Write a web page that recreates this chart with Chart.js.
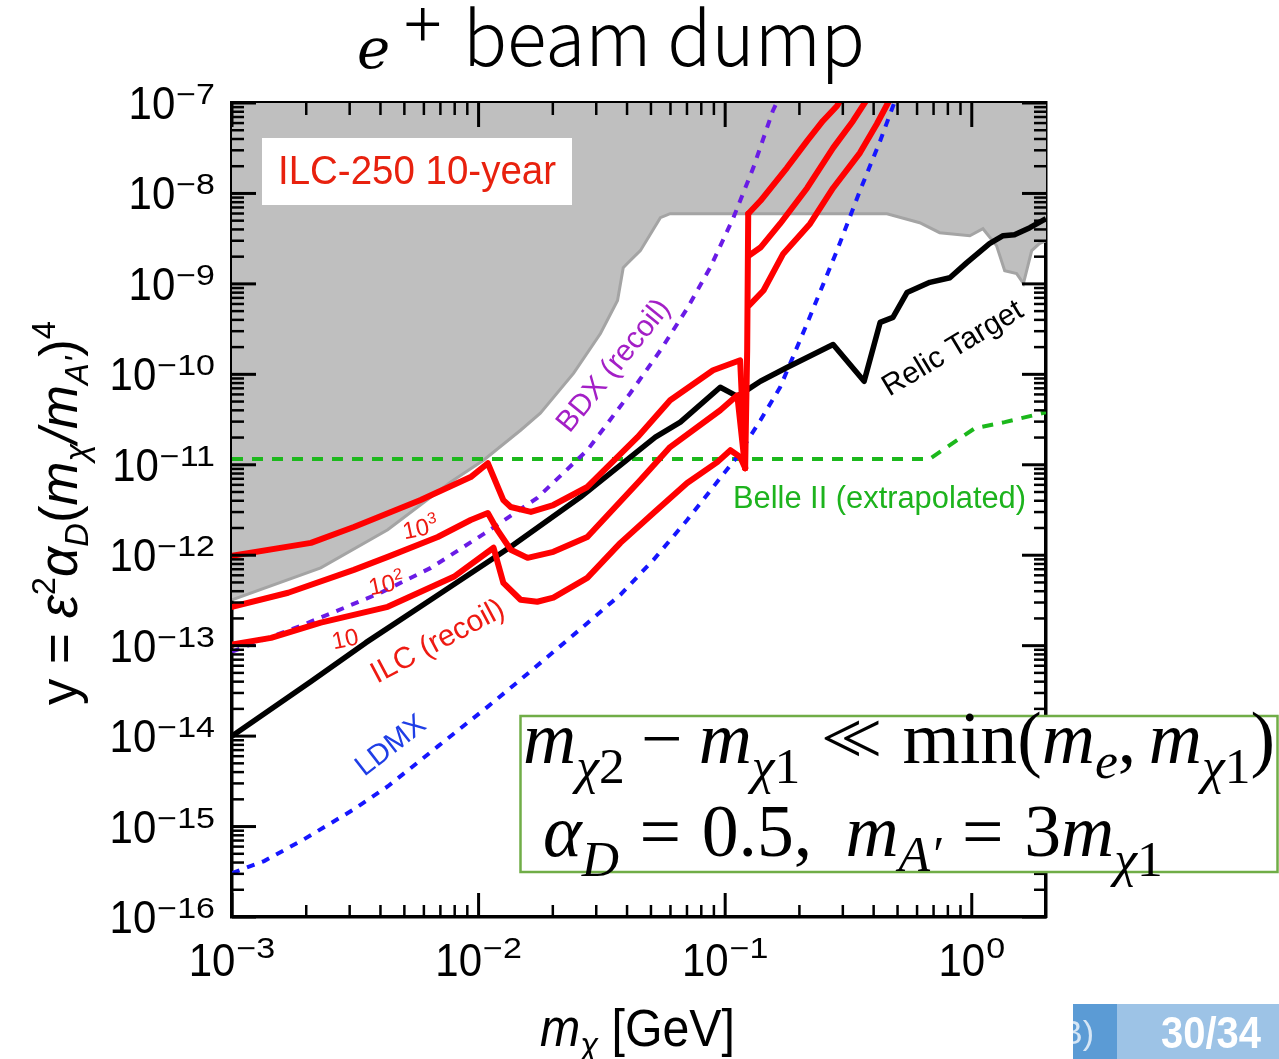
<!DOCTYPE html>
<html>
<head>
<meta charset="utf-8">
<title>e+ beam dump</title>
<script src="https://cdn.jsdelivr.net/npm/chart.js@4.4.1/dist/chart.umd.min.js"></script>
<style>
html,body{margin:0;padding:0;background:#ffffff;overflow:hidden;}
#c{display:block;}
</style>
</head>
<body>
<canvas id="c" width="1279" height="1059"></canvas>
<script>
// ---------- axes ----------
const X_MIN = 1e-3, X_MAX = 2, Y_MIN = 1e-16, Y_MAX = 1e-7;
const xMajorTicks = [1e-3, 1e-2, 1e-1, 1];
const xTickExponents = ['−3', '−2', '−1', '0'];
const yMajorTicks = [1e-16, 1e-15, 1e-14, 1e-13, 1e-12, 1e-11, 1e-10, 1e-9, 1e-8, 1e-7];
const yTickExponents = ['−16', '−15', '−14', '−13', '−12', '−11', '−10', '−9', '−8', '−7'];

// ---------- excluded (grey) region boundary ----------
const excludedX = [1.00e-3, 2.29e-3, 4.28e-3, 7.71e-3, 1.05e-2, 1.48e-2, 1.78e-2, 2.43e-2, 3.12e-2, 3.66e-2, 3.86e-2, 4.01e-2, 4.53e-2, 5.46e-2, 5.98e-2, 0.453, 0.615, 0.741, 0.982, 1.11, 1.26, 1.36, 1.52, 1.62, 1.75, 1.88, 2.0];
const excludedY = [3.22e-13, 7.24e-13, 1.91e-12, 6.44e-12, 1.13e-11, 2.41e-11, 3.72e-11, 1.03e-10, 2.83e-10, 6.55e-10, 1.51e-9, 1.68e-9, 2.33e-9, 5.40e-9, 5.97e-9, 5.97e-9, 4.75e-9, 3.68e-9, 3.41e-9, 4.07e-9, 2.65e-9, 1.40e-9, 1.30e-9, 1.01e-9, 2.33e-9, 2.79e-9, 3.01e-9];

// ---------- relic target ----------
const relicX = [1.0e-3, 2.09e-3, 3.49e-3, 6.40e-3, 1.35e-2, 2.59e-2, 5.21e-2, 6.58e-2, 9.55e-2, 0.112, 0.139, 0.178, 0.274, 0.366, 0.425, 0.479, 0.546, 0.676, 0.815, 0.955, 1.18, 1.34, 1.49, 1.72, 2.0];
const relicY = [1.0e-14, 4.01e-14, 1.08e-13, 3.22e-13, 1.24e-12, 4.40e-12, 2.02e-11, 2.96e-11, 7.19e-11, 5.71e-11, 8.38e-11, 1.19e-10, 2.14e-10, 8.38e-11, 3.75e-10, 4.26e-10, 8.02e-10, 1.04e-9, 1.17e-9, 1.72e-9, 2.79e-9, 3.41e-9, 3.50e-9, 4.18e-9, 5.26e-9];

// ---------- Belle II (extrapolated) ----------
const belleX = [1e-3, 0.676, 0.815, 1.03, 1.36, 2.0];
const belleY = [1.16e-11, 1.16e-11, 1.65e-11, 2.54e-11, 2.96e-11, 3.81e-11];

// ---------- BDX (recoil) ----------
const bdxX = [1.00e-3, 1.90e-3, 4.01e-3, 6.40e-3, 1.05e-2, 1.73e-2, 2.76e-2, 4.12e-2, 5.46e-2, 7.01e-2, 8.69e-2, 0.108, 0.130, 0.156, 0.163];
const bdxY = [8.59e-14, 1.66e-13, 3.85e-13, 7.24e-13, 1.72e-12, 4.30e-12, 1.45e-11, 6.18e-11, 1.84e-10, 5.35e-10, 1.51e-9, 5.40e-9, 1.92e-8, 8.17e-8, 1.05e-7];

// ---------- LDMX ----------
const ldmxX = [1.00e-3, 1.35e-3, 1.96e-3, 3.12e-3, 4.29e-3, 6.83e-3, 1.09e-2, 1.48e-2, 2.35e-2, 3.76e-2, 5.12e-2, 7.01e-2, 9.55e-2, 0.111, 0.139, 0.167, 0.215, 0.284, 0.352, 0.425, 0.488];
const ldmxY = [3.06e-16, 4.15e-16, 7.24e-16, 1.55e-15, 2.79e-15, 7.69e-15, 2.12e-14, 4.22e-14, 1.22e-13, 3.66e-13, 8.89e-13, 2.45e-12, 7.13e-12, 1.19e-11, 3.11e-11, 7.19e-11, 3.66e-10, 2.33e-9, 1.07e-8, 3.81e-8, 1.05e-7];

// ---------- ILC (recoil), 10^3 / 10^2 / 10 ----------
const ilc1000X = [1.00e-3, 2.09e-3, 3.12e-3, 5.82e-3, 9.29e-3, 1.09e-2, 1.26e-2, 1.35e-2, 1.63e-2, 2.01e-2, 2.76e-2, 4.41e-2, 5.98e-2, 8.93e-2, 0.115, 0.1205];
const ilc1000Y = [9.84e-13, 1.37e-12, 2.05e-12, 4.07e-12, 7.31e-12, 1.04e-11, 4.07e-12, 3.41e-12, 3.01e-12, 3.59e-12, 5.68e-12, 2.02e-11, 5.16e-11, 1.11e-10, 1.43e-10, 9.18e-12];
const ilc100X = [1.00e-3, 1.69e-3, 3.12e-3, 4.28e-3, 6.83e-3, 9.29e-3, 1.09e-2, 1.19e-2, 1.35e-2, 1.58e-2, 2.01e-2, 2.76e-2, 4.53e-2, 5.98e-2, 9.55e-2, 0.112, 0.1205];
const ilc100Y = [2.69e-13, 3.85e-13, 6.89e-13, 9.59e-13, 1.59e-12, 2.45e-12, 2.93e-12, 1.91e-12, 1.15e-12, 9.35e-13, 1.09e-12, 1.59e-12, 6.78e-12, 1.57e-11, 4.01e-11, 5.86e-11, 9.18e-12];
const ilc10X = [1.00e-3, 1.44e-3, 2.29e-3, 4.28e-3, 7.93e-3, 1.15e-2, 1.26e-2, 1.48e-2, 1.73e-2, 2.01e-2, 2.76e-2, 3.76e-2, 5.12e-2, 7.01e-2, 9.29e-2, 0.105, 0.115, 0.1205];
const ilc10Y = [1.03e-13, 1.22e-13, 1.80e-13, 2.69e-13, 5.77e-13, 1.21e-12, 4.95e-13, 3.22e-13, 3.06e-13, 3.39e-13, 5.62e-13, 1.37e-12, 2.93e-12, 6.28e-12, 1.07e-11, 1.45e-11, 1.22e-11, 9.18e-12];
const ilcEdgeX = [0.1205, 0.1228, 0.124];
const ilcEdgeY = [9.18e-12, 1.84e-10, 5.97e-9];
const ilcUpperAX = [0.124, 0.139, 0.178, 0.215, 0.249, 0.284, 0.292];
const ilcUpperAY = [5.97e-9, 8.30e-9, 1.92e-8, 3.81e-8, 6.33e-8, 9.27e-8, 1.05e-7];
const ilcUpperBX = [0.125, 0.139, 0.167, 0.215, 0.274, 0.330, 0.372];
const ilcUpperBY = [2.06e-9, 2.52e-9, 4.63e-9, 1.15e-8, 3.19e-8, 6.33e-8, 1.05e-7];
const ilcUpperCX = [0.125, 0.143, 0.172, 0.221, 0.274, 0.352, 0.412, 0.457, 0.466];
const ilcUpperCY = [5.77e-10, 8.45e-10, 2.16e-9, 4.63e-9, 1.15e-8, 2.81e-8, 5.86e-8, 1.00e-7, 1.11e-7];

// ---------- styling ----------
const SANS = '"Liberation Sans", Arial, Helvetica, sans-serif';
const SERIF = '"Liberation Serif", "DejaVu Serif", serif';
const RED = '#ff0000';

function pts(xs, ys) { return xs.map((x, i) => ({ x: x, y: ys[i] })); }

function redLine(label, xs, ys) {
  return { label: label, data: pts(xs, ys), borderColor: RED, borderWidth: 6, pointRadius: 0, fill: false, tension: 0, borderJoinStyle: 'round', borderCapStyle: 'round' };
}

const datasets = [
  redLine('ILC 10^3', ilc1000X, ilc1000Y),
  redLine('ILC 10^2', ilc100X, ilc100Y),
  redLine('ILC 10', ilc10X, ilc10Y),
  redLine('ILC edge', ilcEdgeX, ilcEdgeY),
  redLine('ILC upper A', ilcUpperAX, ilcUpperAY),
  redLine('ILC upper B', ilcUpperBX, ilcUpperBY),
  redLine('ILC upper C', ilcUpperCX, ilcUpperCY),
  { label: 'Relic Target', data: pts(relicX, relicY), borderColor: '#000000', borderWidth: 5.5, pointRadius: 0, fill: false, tension: 0, borderJoinStyle: 'round' },
  { label: 'BDX (recoil)', data: pts(bdxX, bdxY), borderColor: '#6a1be6', borderWidth: 4, borderDash: [8, 8], pointRadius: 0, fill: false, tension: 0 },
  { label: 'LDMX', data: pts(ldmxX, ldmxY), borderColor: '#1616ff', borderWidth: 4, borderDash: [8, 8], pointRadius: 0, fill: false, tension: 0 },
  { label: 'Belle II', data: pts(belleX, belleY), borderColor: '#1cb81c', borderWidth: 4, borderDash: [11, 9], pointRadius: 0, fill: false, tension: 0 },
  { label: 'Excluded', data: pts(excludedX, excludedY), borderColor: '#a4a4a4', borderWidth: 3, backgroundColor: '#bfbfbf', pointRadius: 0, fill: 'end', tension: 0 }
];

// ---------- text helpers ----------
function stretchText(ctx, s, x, y, font, vs) {
  ctx.save();
  ctx.font = font;
  ctx.translate(x, y);
  ctx.scale(1, vs);
  ctx.fillText(s, 0, 0);
  ctx.restore();
}
function tenPow(ctx, exp, x, yBase, big, small, rise, align, vs, svs) {
  ctx.font = big + 'px ' + SANS; const w1 = ctx.measureText('10').width;
  ctx.font = small + 'px ' + SANS; const w2 = ctx.measureText(exp).width;
  const gap = 1;
  let x0 = x;
  if (align === 'right') x0 = x - w1 - w2 - gap;
  if (align === 'center') x0 = x - (w1 + w2 + gap) / 2;
  stretchText(ctx, '10', x0, yBase, big + 'px ' + SANS, vs);
  stretchText(ctx, exp, x0 + w1 + gap, yBase - rise, small + 'px ' + SANS, svs);
}
function runFont(r, S, fam) {
  return (r.it ? 'italic ' : '') + (r.b ? 'bold ' : '') + ((r.sz || 1) * S).toFixed(2) + 'px ' + (r.fam || fam);
}
function runsWidth(ctx, runs, S, fam) {
  let w = 0;
  for (const r of runs) {
    if (r.gap) { w += r.gap * S; continue; }
    ctx.font = runFont(r, S, fam); w += ctx.measureText(r.t).width + (r.kern || 0) * S;
  }
  return w;
}
function drawRuns(ctx, runs, S, fam, x, y) {
  for (const r of runs) {
    if (r.gap) { x += r.gap * S; continue; }
    ctx.font = runFont(r, S, fam);
    ctx.fillText(r.t, x, y + (r.dy || 0) * S);
    x += ctx.measureText(r.t).width + (r.kern || 0) * S;
  }
}
function rotLabel(ctx, s, cx, cy, deg, px, color) {
  ctx.save();
  ctx.translate(cx, cy);
  ctx.rotate(deg * Math.PI / 180);
  ctx.font = px + 'px ' + SANS;
  ctx.fillStyle = color;
  ctx.textAlign = 'center';
  ctx.textBaseline = 'middle';
  ctx.fillText(s, 0, 0);
  ctx.restore();
}
function smallPow(ctx, exp, cx, cy, deg) {
  ctx.save();
  ctx.translate(cx, cy);
  ctx.rotate(deg * Math.PI / 180);
  ctx.fillStyle = '#ee1a12';
  ctx.textBaseline = 'alphabetic';
  ctx.font = '24px ' + SANS; const w1 = ctx.measureText('10').width;
  ctx.font = '16px ' + SANS; const w2 = exp ? ctx.measureText(exp).width : 0;
  const x0 = -(w1 + w2) / 2;
  ctx.font = '24px ' + SANS; ctx.fillText('10', x0, 9);
  if (exp) { ctx.font = '16px ' + SANS; ctx.fillText(exp, x0 + w1, -1); }
  ctx.restore();
}

const decor = {
  id: 'decor',
  afterDraw(chart) {
    const ctx = chart.ctx;
    const a = chart.chartArea;
    const xs = chart.scales.x, ys = chart.scales.y;
    ctx.save();
    ctx.textBaseline = 'alphabetic';
    ctx.textAlign = 'left';

    // inward ticks on all four sides
    ctx.strokeStyle = '#000';
    ctx.lineCap = 'butt';
    const seg = (x1, y1, x2, y2) => { ctx.beginPath(); ctx.moveTo(x1, y1); ctx.lineTo(x2, y2); ctx.stroke(); };
    for (let e = -3; e <= 0; e++) {
      for (let k = 1; k <= 9; k++) {
        const v = k * Math.pow(10, e);
        if (v < X_MIN * 0.999 || v > X_MAX * 0.999) continue;
        const px = xs.getPixelForValue(v);
        const major = (k === 1);
        const L = major ? 24 : 12;
        ctx.lineWidth = major ? 3 : 2.5;
        seg(px, a.bottom, px, a.bottom - L);
        seg(px, a.top, px, a.top + L);
      }
    }
    for (let e = -16; e <= -7; e++) {
      for (let k = 1; k <= 9; k++) {
        const v = k * Math.pow(10, e);
        if (v < Y_MIN * 0.999 || v > Y_MAX * 1.001) continue;
        const py = ys.getPixelForValue(v);
        const major = (k === 1);
        const L = major ? 24 : 12;
        ctx.lineWidth = major ? 3 : 2.5;
        seg(a.left, py, a.left + L, py);
        seg(a.right, py, a.right - L, py);
      }
    }

    // tick labels
    ctx.fillStyle = '#000';
    yMajorTicks.forEach((v, i) => {
      const py = ys.getPixelForValue(v);
      tenPow(ctx, yTickExponents[i], 215, py + 16, 42, 34, 15, 'right', 1.1, 0.85);
    });
    xMajorTicks.forEach((v, i) => {
      const px = xs.getPixelForValue(v);
      tenPow(ctx, xTickExponents[i], px, 976, 42, 34, 18, 'center', 1.1, 0.85);
    });

    // axis titles
    const yRuns = [
      { t: 'y = ' }, { t: 'ε', it: 1 }, { t: '2', sz: 0.62, dy: -0.42 }, { t: 'α', it: 1 },
      { t: 'D', it: 1, sz: 0.62, dy: 0.2 }, { t: '(' }, { t: 'm', it: 1 }, { t: 'χ', it: 1, sz: 0.62, dy: 0.2 },
      { t: '/', it: 1 }, { t: 'm', it: 1 }, { t: "A'", it: 1, sz: 0.62, dy: 0.2 }, { t: ')' }, { t: '4', sz: 0.62, dy: -0.42 }
    ];
    let S = 44;
    S = S * 384 / runsWidth(ctx, yRuns, S, SANS);
    ctx.save();
    ctx.translate(77, 513);
    ctx.rotate(-Math.PI / 2);
    drawRuns(ctx, yRuns, S, SANS, -runsWidth(ctx, yRuns, S, SANS) / 2, 0);
    ctx.restore();

    const xRuns = [{ t: 'm', it: 1 }, { t: 'χ', it: 1, sz: 0.68, dy: 0.22 }, { t: ' [GeV]' }];
    let SX = 44;
    SX = SX * 195 / runsWidth(ctx, xRuns, SX, SANS);
    ctx.save();
    ctx.translate(540, 1046);
    ctx.scale(1, 1.08);
    drawRuns(ctx, xRuns, SX, SANS, 0, 0);
    ctx.restore();

    // chart title
    ctx.fillStyle = '#000';
    ctx.font = 'italic 56px "DejaVu Serif", serif';
    ctx.fillText('e', 357, 68);
    ctx.font = '70px ' + SERIF;
    ctx.fillText('+', 403, 48);
    let TS = 60;
    const TF = '"Noto Sans CJK JP", "Noto Sans", sans-serif';
    ctx.font = '300 ' + TS + 'px ' + TF;
    TS = TS * 402 / ctx.measureText('beam dump').width;
    ctx.font = '300 ' + TS.toFixed(2) + 'px ' + TF;
    stretchText(ctx, 'beam dump', 463, 66, '300 ' + TS.toFixed(2) + 'px ' + TF, 1.03);

    // ILC-250 box
    ctx.fillStyle = '#ffffff';
    ctx.fillRect(262, 138, 310, 67);
    ctx.fillStyle = '#e8210e';
    let FS = 40;
    ctx.font = FS + 'px ' + SANS;
    FS = FS * 278 / ctx.measureText('ILC-250 10-year').width;
    stretchText(ctx, 'ILC-250 10-year', 278, 184, FS.toFixed(2) + 'px ' + SANS, 1.07);

    // curve labels
    rotLabel(ctx, 'BDX (recoil)', 614, 366, -51, 30, '#a31fc6');
    rotLabel(ctx, 'ILC (recoil)', 438, 642, -28, 30, '#ee1a12');
    rotLabel(ctx, 'LDMX', 391, 746, -38, 29, '#1f3ee6');
    rotLabel(ctx, 'Relic Target', 953, 349, -31, 30, '#000000');
    ctx.fillStyle = '#1db31d';
    let BS = 30;
    ctx.font = BS + 'px ' + SANS;
    BS = BS * 293 / ctx.measureText('Belle II (extrapolated)').width;
    ctx.font = BS.toFixed(2) + 'px ' + SANS;
    ctx.fillText('Belle II (extrapolated)', 733, 508);
    smallPow(ctx, '3', 420, 527, -12);
    smallPow(ctx, '2', 386, 583, -12);
    smallPow(ctx, '', 345, 638, -12);

    // model-assumption box
    ctx.fillStyle = '#ffffff';
    ctx.fillRect(520, 716, 760, 156);
    ctx.strokeStyle = '#70ad47';
    ctx.lineWidth = 2.5;
    ctx.strokeRect(520.5, 716, 757, 156);
    ctx.fillStyle = '#000000';
    const line1 = [
      { t: 'm', it: 1 }, { t: 'χ', it: 1, sz: 0.7, dy: 0.27 }, { t: '2', sz: 0.7, dy: 0.27 }, { gap: 0.22 }, { t: '−' }, { gap: 0.22 },
      { t: 'm', it: 1 }, { t: 'χ', it: 1, sz: 0.7, dy: 0.27 }, { t: '1', sz: 0.7, dy: 0.27 }, { gap: 0.28 },
      { t: '<', kern: -0.3 }, { t: '<' }, { gap: 0.28 },
      { t: 'min' }, { t: '(' }, { t: 'm', it: 1 }, { t: 'e', it: 1, sz: 0.7, dy: 0.2 }, { t: ',' }, { gap: 0.17 },
      { t: 'm', it: 1 }, { t: 'χ', it: 1, sz: 0.7, dy: 0.27 }, { t: '1', sz: 0.7, dy: 0.27 }, { t: ')' }
    ];
    const line2 = [
      { t: 'α', it: 1 }, { t: 'D', it: 1, sz: 0.7, dy: 0.27 }, { gap: 0.28 }, { t: '=' }, { gap: 0.28 }, { t: '0.5,' }, { gap: 0.45 },
      { t: 'm', it: 1 }, { t: 'A′', it: 1, sz: 0.7, dy: 0.2 }, { gap: 0.28 }, { t: '=' }, { gap: 0.28 }, { t: '3' },
      { t: 'm', it: 1 }, { t: 'χ', it: 1, sz: 0.7, dy: 0.27 }, { t: '1', sz: 0.7, dy: 0.27 }
    ];
    let MS = 56;
    MS = MS * 752 / runsWidth(ctx, line1, MS, SERIF);
    drawRuns(ctx, line1, MS, SERIF, 523, 763);
    drawRuns(ctx, line2, MS, SERIF, 543, 856);

    // slide page-number box
    ctx.fillStyle = '#5b9bd5';
    ctx.fillRect(1073, 1004, 44, 55);
    ctx.fillStyle = '#9dc3e6';
    ctx.fillRect(1117, 1004, 162, 55);
    ctx.save();
    ctx.beginPath(); ctx.rect(1073, 1004, 44, 55); ctx.clip();
    ctx.fillStyle = '#d6e6f5';
    ctx.font = '34px ' + SANS;
    ctx.textAlign = 'right';
    ctx.fillText('B)', 1094, 1044);
    ctx.restore();
    ctx.fillStyle = '#ffffff';
    ctx.textAlign = 'center';
    stretchText(ctx, '30/34', 1211, 1048, 'bold 40px ' + SANS, 1.1);
    ctx.restore();
  }
};

const axisCommon = {
  type: 'logarithmic',
  grid: { display: false },
  ticks: { display: false },
  border: { display: true, color: '#000000', width: 3.5 },
  z: 1
};

new Chart(document.getElementById('c'), {
  type: 'line',
  data: { datasets: datasets },
  options: {
    responsive: false,
    animation: false,
    devicePixelRatio: 1,
    layout: { padding: { left: 224, right: 225, top: 95, bottom: 134 } },
    plugins: { legend: { display: false }, tooltip: { enabled: false }, title: { display: false } },
    scales: {
      x: Object.assign({}, axisCommon, { position: 'bottom', min: X_MIN, max: X_MAX }),
      x2: Object.assign({}, axisCommon, { position: 'top', min: X_MIN, max: X_MAX }),
      y: Object.assign({}, axisCommon, { position: 'left', min: Y_MIN, max: Y_MAX }),
      y2: Object.assign({}, axisCommon, { position: 'right', min: Y_MIN, max: Y_MAX })
    }
  },
  plugins: [decor]
});
</script>
</body>
</html>
